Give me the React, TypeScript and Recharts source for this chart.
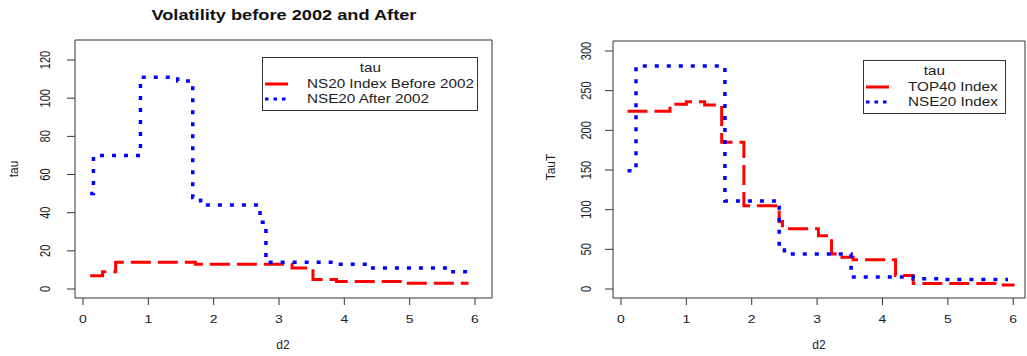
import { LineChart, Line, XAxis, YAxis, ReferenceArea } from "recharts";

const FONT = '"Liberation Sans", Arial, sans-serif';
const INK = "#222";
const BOX = "#333";
const STRETCH = 1.27; // the source picture is stretched sideways

// left panel: step levels of tau (start of each step on d2)
const before2002D2 = [0.11, 0.3, 0.5, 1.72, 3.2, 3.52, 3.88, 4.93, 5.9];
const before2002Tau = [7, 9, 14, 13, 11, 5, 4, 3, 3];
const after2002D2 = [0.11, 0.16, 0.88, 1.45, 1.68, 1.8, 2.71, 2.8, 3.83, 4.4, 5.62, 6.0];
const after2002Tau = [50, 70, 111, 109, 48, 44, 35, 14, 13, 11, 9, 9];

// right panel
const top40D2 = [0.1, 0.75, 1.0, 1.28, 1.54, 1.88, 2.42, 2.47, 3.02, 3.22, 3.3, 3.55, 4.2, 4.47, 5.72, 6.02];
const top40Tau = [224, 233, 236, 232, 185, 105, 85, 76, 67, 44, 40, 37, 17, 7, 5, 5];
const nse20D2 = [0.1, 0.23, 1.59, 2.42, 2.5, 3.52, 4.47, 4.9, 5.92];
const nse20Tau = [149, 281, 111, 49, 44, 15, 13, 12, 12];

const d2Ticks = [0, 1, 2, 3, 4, 5, 6];
const tauTicks = [0, 20, 40, 60, 80, 100, 120];
const tauTTicks = [0, 50, 100, 150, 200, 250, 300];

type Pt = { d2: number; tau: number };
const steps = (xs: number[], ys: number[]): Pt[] => xs.map((d2, i) => ({ d2, tau: ys[i] }));

interface Series {
  name: string;
  data: Pt[];
  color: string;
  dash: string;
  legendDash: string;
  width: number;
}

const RED = "#ff0000";
const BLUE = "#0000ff";
const redStyle = { color: RED, dash: "20 7", legendDash: "", width: 3 };
const blueStyle = { color: BLUE, dash: "4 8", legendDash: "3.5 5", width: 3.5 };

function XTick({ x, y, payload }: any) {
  return (
    <text
      transform={`translate(${x},${y}) scale(${STRETCH},1)`}
      dy="0.71em"
      textAnchor="middle"
      fontSize={11}
      fontFamily={FONT}
      fill={INK}
    >
      {payload.value}
    </text>
  );
}

function YTick({ x, y, payload }: any) {
  return (
    <text
      transform={`translate(${x},${y}) scale(${STRETCH},1) rotate(-90)`}
      textAnchor="middle"
      fontSize={11}
      fontFamily={FONT}
      fill={INK}
    >
      {payload.value}
    </text>
  );
}

function AxisTitle({ px, py, txt, vertical }: any) {
  return (
    <text
      transform={`translate(${px},${py})${vertical ? " rotate(-90)" : ""}`}
      textAnchor="middle"
      fontSize={12}
      fontFamily={FONT}
      fill={INK}
    >
      {txt}
    </text>
  );
}

function LegendBox({ left, top, width, items }: { left: number; top: number; width: number; items: Series[] }) {
  return (
    <div
      style={{
        position: "absolute",
        left,
        top,
        width,
        height: 54,
        border: `1px solid ${BOX}`,
        boxSizing: "border-box",
        background: "#fff",
        fontFamily: FONT,
        fontSize: 12,
        color: INK,
      }}
    >
      <div style={{ position: "absolute", top: 2, width: "100%", textAlign: "center", lineHeight: "16px" }}>
        <span style={{ display: "inline-block", transform: `scaleX(${STRETCH})` }}>tau</span>
      </div>
      {items.map((s, i) => (
        <div
          key={s.name}
          style={{ position: "absolute", top: 18 + i * 15, left: 2, height: 16, display: "flex", alignItems: "center", whiteSpace: "nowrap" }}
        >
          <svg width={23} height={6} style={{ display: "block" }}>
            <line x1={0} y1={3} x2={23} y2={3} stroke={s.color} strokeWidth={3} strokeDasharray={s.legendDash || undefined} />
          </svg>
          <span style={{ marginLeft: 19, display: "inline-block", transform: `scaleX(${STRETCH})`, transformOrigin: "left center", lineHeight: "16px" }}>
            {s.name}
          </span>
        </div>
      ))}
    </div>
  );
}

interface PanelProps {
  left: number;
  width: number;
  margin: { top: number; right: number; bottom: number; left: number };
  xDomain: [number, number];
  yDomain: [number, number];
  yTicks: number[];
  yWidth: number;
  yTickMargin: number;
  series: Series[];
  yTitle: string;
  yTitleX: number;
  yTitleY: number;
  xTitleX: number;
}

function Panel(p: PanelProps) {
  return (
    <div style={{ position: "absolute", left: p.left, top: 0 }}>
      <LineChart width={p.width} height={356} margin={p.margin}>
        <XAxis
          type="number"
          dataKey="d2"
          domain={p.xDomain}
          allowDataOverflow
          ticks={d2Ticks}
          interval={0}
          height={52}
          axisLine={false}
          tickLine={{ stroke: BOX }}
          tickSize={7}
          tickMargin={10}
          tick={<XTick />}
          label={<AxisTitle px={p.xTitleX} py={349} txt="d2" />}
        />
        <YAxis
          type="number"
          dataKey="tau"
          domain={p.yDomain}
          allowDataOverflow
          ticks={p.yTicks}
          interval={0}
          width={p.yWidth}
          axisLine={false}
          tickLine={{ stroke: BOX }}
          tickSize={8}
          tickMargin={p.yTickMargin}
          tick={<YTick />}
          label={<AxisTitle px={p.yTitleX} py={p.yTitleY} txt={p.yTitle} vertical />}
        />
        <ReferenceArea
          x1={p.xDomain[0]}
          x2={p.xDomain[1]}
          y1={p.yDomain[0]}
          y2={p.yDomain[1]}
          fill="none"
          stroke={BOX}
          strokeWidth={1}
          ifOverflow="visible"
        />
        {p.series.map((s) => (
          <Line
            key={s.name}
            data={s.data}
            dataKey="tau"
            name={s.name}
            type="stepAfter"
            stroke={s.color}
            strokeWidth={s.width}
            strokeDasharray={s.dash}
            dot={false}
            activeDot={false}
            isAnimationActive={false}
          />
        ))}
      </LineChart>
    </div>
  );
}

const leftSeries: Series[] = [
  { name: "NS20 Index Before 2002", data: steps(before2002D2, before2002Tau), ...redStyle },
  { name: "NSE20 After 2002", data: steps(after2002D2, after2002Tau), ...blueStyle },
];

const rightSeries: Series[] = [
  { name: "TOP40 Index", data: steps(top40D2, top40Tau), ...redStyle },
  { name: "NSE20 Index", data: steps(nse20D2, nse20Tau), ...blueStyle },
];

export default function App() {
  return (
    <div style={{ position: "absolute", left: 0, top: 0, width: 1027, height: 356, background: "#fff", overflow: "hidden" }}>
      <Panel
        left={0}
        width={510}
        margin={{ top: 40, right: 18, bottom: 6, left: 5 }}
        xDomain={[-0.122, 6.26]}
        yDomain={[-4.7, 130.5]}
        yTicks={tauTicks}
        yWidth={70}
        yTickMargin={17}
        series={leftSeries}
        yTitle="tau"
        yTitleX={18}
        yTitleY={169}
        xTitleX={283}
      />
      <Panel
        left={520}
        width={507}
        margin={{ top: 41, right: 2, bottom: 6, left: 13 }}
        xDomain={[-0.122, 6.18]}
        yDomain={[-11.35, 312.6]}
        yTicks={tauTTicks}
        yWidth={80}
        yTickMargin={14}
        series={rightSeries}
        yTitle="TauT"
        yTitleX={35}
        yTitleY={167}
        xTitleX={299}
      />
      <div
        style={{
          position: "absolute",
          left: 75,
          top: 7,
          width: 417,
          textAlign: "center",
          lineHeight: "16px",
          fontFamily: FONT,
          fontWeight: "bold",
          fontSize: 14,
          color: "#111",
        }}
      >
        <span style={{ display: "inline-block", transform: "scaleX(1.3)" }}>Volatility before 2002 and After</span>
      </div>
      <LegendBox left={262} top={57} width={216} items={leftSeries} />
      <LegendBox left={863} top={60} width={143} items={rightSeries} />
    </div>
  );
}
